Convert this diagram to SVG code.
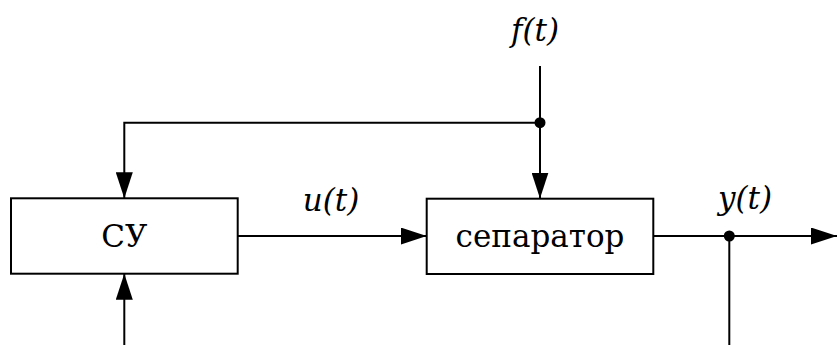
<svg xmlns="http://www.w3.org/2000/svg" width="837" height="345" viewBox="0 0 837 345">
<defs>
<marker id="ah" viewBox="0 0 26 17" refX="26" refY="8.5" markerWidth="26" markerHeight="17" markerUnits="userSpaceOnUse" orient="auto">
<path d="M0,0 L26,8.5 L0,17 Z" fill="#000"/>
</marker>
<style>
.box{fill:#fff;stroke:#000;stroke-width:2}
.ln{fill:none;stroke:#000;stroke-width:2}
.arr{fill:none;stroke:#000;stroke-width:2;marker-end:url(#ah)}
.t{font-family:'DejaVu Serif','Liberation Serif',serif;font-size:31px;fill:#000;text-anchor:middle}
.it{font-family:'DejaVu Serif','Liberation Serif',serif;font-size:31px;font-style:italic;fill:#000;text-anchor:middle}
</style>
</defs>
<rect width="837" height="345" fill="#fff"/>
<g id="connectors">
<path class="ln" d="M540,66 V122.7"/>
<path class="arr" d="M540,122.7 V198.5"/>
<path class="arr" d="M540,122.7 H124.3 V198.3"/>
<path class="arr" d="M124.3,345 V273.7"/>
<path class="arr" d="M237.7,236 H426.7"/>
<path class="arr" d="M653.3,236 H837"/>
<path class="ln" d="M729.3,236 V345"/>
<circle cx="540" cy="122.7" r="5.5" fill="#000"/>
<circle cx="729.3" cy="236" r="5.5" fill="#000"/>
</g>
<g id="cu">
<rect class="box" x="11" y="198.3" width="226.7" height="75.4"/>
<text class="t" x="124.3" y="247">СУ</text>
</g>
<g id="separator">
<rect class="box" x="426.7" y="198.7" width="226.6" height="75.3"/>
<text class="t" x="540" y="247">сепаратор</text>
</g>
<g id="labels">
<text class="it" x="535" y="41">f(t)</text>
<text class="it" x="331" y="211">u(t)</text>
<text class="it" x="745" y="209">y(t)</text>
</g>
</svg>
